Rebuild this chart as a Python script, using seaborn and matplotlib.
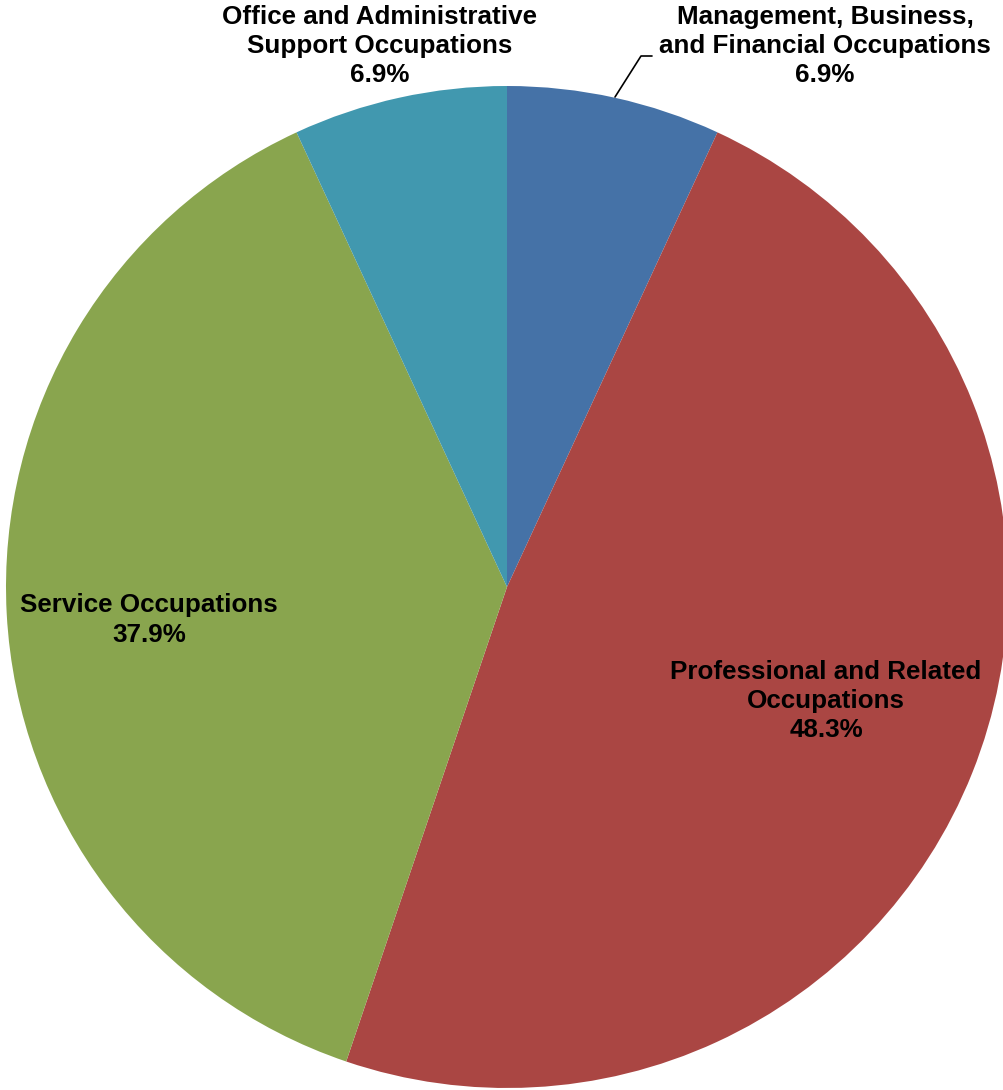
import matplotlib
matplotlib.use("Agg")
import matplotlib.pyplot as plt
import seaborn as sns

categories = [
    "Management, Business,\nand Financial Occupations",
    "Professional and Related\nOccupations",
    "Service Occupations",
    "Office and Administrative\nSupport Occupations",
]
values = [6.9, 48.3, 37.9, 6.9]
colors = sns.color_palette(["#4572A7", "#AA4643", "#89A54E", "#4198AF"])

sns.set_theme(style="white")
plt.rcParams["font.family"] = ["Liberation Sans", "DejaVu Sans"]

W, H = 1004, 1090
fig = plt.figure(figsize=(W / 100, H / 100), dpi=100)
ax = fig.add_axes([0, 0, 1, 1])

cx, cy, r = 507, H - 587, 501
wedges, _ = ax.pie(values, colors=colors, startangle=90, counterclock=False,
                   center=(cx, cy), radius=r, frame=True,
                   wedgeprops=dict(linewidth=0))
ax.set_xlim(0, W)
ax.set_ylim(0, H)
ax.set_aspect("equal")
ax.axis("off")

label_pos = [(825, H - 46), (826, H - 701), (149, H - 620), (380, H - 46)]
for cat, v, (x, y) in zip(categories, values, label_pos):
    ax.text(x, y, f"{cat}\n{v:.1f}%", ha="center", va="center",
            fontsize=18.7, fontweight="bold", color="black", linespacing=1.27)

# leader line for the Management label
ax.plot([615, 641, 652], [H - 97, H - 56, H - 56], color="black", lw=1.2)

fig.savefig("out.png", dpi=100)
